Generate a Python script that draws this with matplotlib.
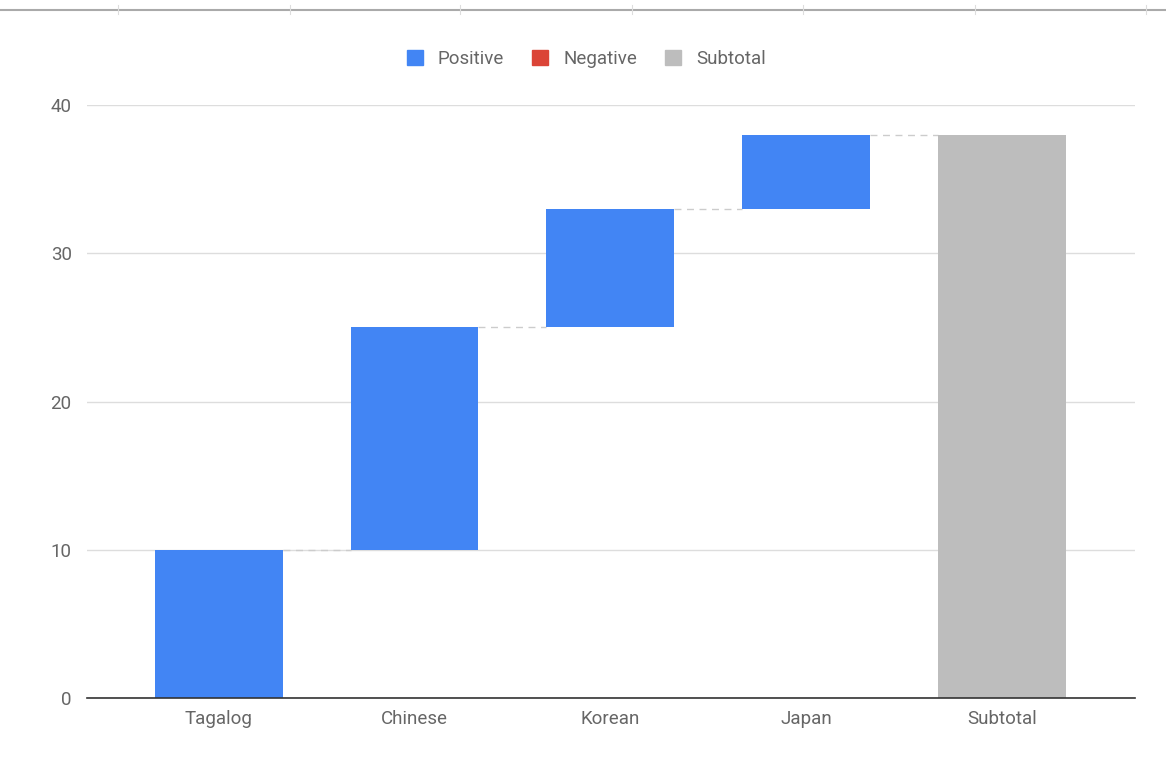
import numpy as np
import matplotlib.pyplot as plt
from matplotlib.patches import Patch

plt.rcParams['font.family'] = ['Roboto', 'DejaVu Sans']

# 数据
categories = ['Tagalog', 'Chinese', 'Korean', 'Japan']
changes = [10, 15, 8, 5]
subtotal_label = 'Subtotal'
yticks = [0, 10, 20, 30, 40]

col_pos = '#4285F4'
col_neg = '#DB4437'
col_sub = '#BDBDBD'

fig = plt.figure(figsize=(11.66, 7.61), dpi=100)
ax = fig.add_axes([0.0746, 0.0828, 0.8988, 0.7792])

starts = np.concatenate([[0], np.cumsum(changes)[:-1]])
ends = np.cumsum(changes)
total = ends[-1]
width = 0.653

x = np.arange(len(categories))
colors = [col_pos if c >= 0 else col_neg for c in changes]
ax.bar(x, changes, bottom=starts, width=width, color=colors, zorder=3)
ax.bar(len(categories), total, width=width, color=col_sub, zorder=3)

# 连接线
for i, lv in enumerate(ends):
    ax.plot([i + width / 2, i + 1 - width / 2], [lv, lv], color='#cccccc',
            linestyle=(0, (5, 4)), linewidth=1, zorder=2)

labels = categories + [subtotal_label]
ax.set_xticks(range(len(labels)))
ax.set_xticklabels(labels)
ax.set_yticks(yticks)
ax.set_xlim(-0.673, 4.68)
ax.set_ylim(0, 40)

ax.grid(axis='y', color='#dddddd', linewidth=1, zorder=0)
ax.set_axisbelow(True)
for s in ['top', 'right', 'left']:
    ax.spines[s].set_visible(False)
ax.spines['bottom'].set_color('#333333')
ax.spines['bottom'].set_linewidth(1.2)
ax.spines['bottom'].set_zorder(4)
ax.tick_params(axis='both', length=0, labelsize=13.5, colors='#666666')
ax.tick_params(axis='y', pad=11)
ax.tick_params(axis='x', pad=9)

handles = [Patch(color=col_pos, label='Positive'),
           Patch(color=col_neg, label='Negative'),
           Patch(color=col_sub, label='Subtotal')]
leg = fig.legend(handles=handles, loc='center', bbox_to_anchor=(0.503, 0.923),
                 ncol=3, frameon=False, fontsize=13.5, handlelength=0.85,
                 handleheight=0.85, handletextpad=0.8, columnspacing=1.5)
for t in leg.get_texts():
    t.set_color('#666666')

# 顶部的表格边线
fig.add_artist(plt.Line2D([0, 1], [0.987, 0.987], transform=fig.transFigure,
                          color='#aaaaaa', linewidth=1.5))
for xp in [118, 290, 460, 632, 803, 975, 1146]:
    fig.add_artist(plt.Line2D([xp / 1166, xp / 1166], [0.981, 0.993],
                              transform=fig.transFigure, color='#dddddd',
                              linewidth=0.8))

fig.savefig('out.png', dpi=100)
